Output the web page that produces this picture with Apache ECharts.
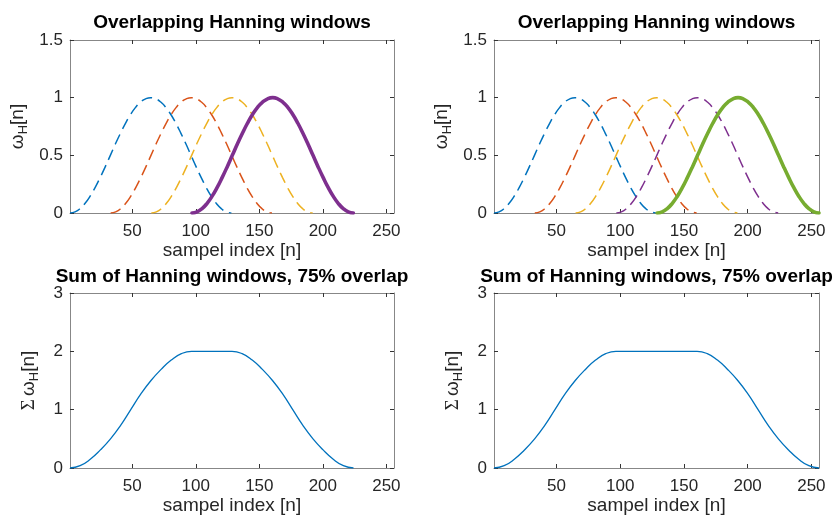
<!DOCTYPE html>
<html>
<head>
<meta charset="utf-8">
<script src="https://cdn.jsdelivr.net/npm/echarts@6/dist/echarts.min.js"></script>
<style>
  html, body { margin: 0; padding: 0; background: #fff; }
  #main { width: 835px; height: 519px; }
</style>
</head>
<body>
<div id="main"></div>
<script>
// one Hanning window (length 128), sampled every ~4 samples
var windowShape = [0, 0.010, 0.038, 0.084, 0.146, 0.222, 0.309, 0.402, 0.5, 0.598, 0.691, 0.778, 0.854, 0.916, 0.962, 0.990, 1,
                   0.990, 0.962, 0.916, 0.854, 0.778, 0.691, 0.598, 0.5, 0.402, 0.309, 0.222, 0.146, 0.084, 0.038, 0.010, 0];
var windowStep = 127 / 32;
var startsLeft = [1, 33, 65, 97];
var startsRight = [1, 33, 65, 97, 129];

// sums of the windows, sampled every ~8 samples
var sumStep = 255 / 32;
var sumLeft = [0, 0.04, 0.15, 0.31, 0.5, 0.73, 1.0, 1.27, 1.5, 1.69, 1.85, 1.96, 2, 2, 2,
               2, 2, 1.96, 1.85, 1.69, 1.5, 1.27, 1.0, 0.73, 0.5, 0.31, 0.15, 0.04, 0];
var sumRight = [0, 0.04, 0.15, 0.31, 0.5, 0.73, 1.0, 1.27, 1.5, 1.69, 1.85, 1.96,
                2, 2, 2, 2, 2, 2, 2, 2, 2,
                1.96, 1.85, 1.69, 1.5, 1.27, 1.0, 0.73, 0.5, 0.31, 0.15, 0.04, 0];

var xTicks = [50, 100, 150, 200, 250];
var colors = ['#0072BD', '#D95319', '#EDB120', '#7E2F8E', '#77AC30'];

var FONT = 'Liberation Sans, Arial, sans-serif';
var AXIS_COLOR = '#878787';
var TEXT_COLOR = '#262626';

var grids = [
  { left: 70, top: 40, width: 324, height: 173 },
  { left: 494, top: 40, width: 325, height: 173 },
  { left: 70, top: 293, width: 324, height: 175 },
  { left: 494, top: 293, width: 325, height: 175 }
];
var yMax = [1.5, 1.5, 3, 3];
var yInterval = [0.5, 0.5, 1, 1];
var yNames = [
  '{n|ω}{s|H}{n|[n]}',
  '{n|ω}{s|H}{n|[n]}',
  '{g|Σ} {n|ω}{s|H}{n|[n]}',
  '{g|Σ} {n|ω}{s|H}{n|[n]}'
];
var yNameGap = [40, 40, 29, 29];
var titles = ['Overlapping Hanning windows', 'Overlapping Hanning windows',
              'Sum of Hanning windows, 75% overlap', 'Sum of Hanning windows, 75% overlap'];

var nameRich = {
  n: { fontSize: 19, fontFamily: FONT, color: TEXT_COLOR, lineHeight: 24 },
  g: { fontSize: 19, fontFamily: 'Liberation Serif, serif', color: TEXT_COLOR, lineHeight: 24 },
  s: { fontSize: 13, fontFamily: FONT, color: TEXT_COLOR, lineHeight: 13, verticalAlign: 'bottom' }
};

var xAxes = [], yAxes = [], titleList = [];
grids.forEach(function (g, i) {
  titleList.push({
    text: titles[i],
    left: g.left + g.width / 2,
    textAlign: 'center',
    top: i < 2 ? 13 : 267,
    padding: 0,
    textStyle: { fontFamily: FONT, fontSize: 19, fontWeight: 'bold', color: '#000' }
  });
  xAxes.push({
    type: 'value', gridIndex: i, min: 1, max: 256, position: 'bottom',
    name: 'sampel index [n]', nameLocation: 'middle', nameGap: 28,
    nameTextStyle: { fontFamily: FONT, fontSize: 19, color: TEXT_COLOR },
    axisLine: { onZero: false, lineStyle: { color: AXIS_COLOR, width: 1 } },
    axisTick: { inside: true, length: 4, customValues: xTicks, lineStyle: { color: '#333' } },
    axisLabel: { customValues: xTicks, margin: 10, fontFamily: FONT, fontSize: 17, color: TEXT_COLOR },
    splitLine: { show: false }
  });
  xAxes.push({
    type: 'value', gridIndex: i, min: 1, max: 256, position: 'top',
    axisLine: { onZero: false, lineStyle: { color: AXIS_COLOR, width: 1 } },
    axisTick: { inside: true, length: 4, customValues: xTicks, lineStyle: { color: '#333' } },
    axisLabel: { show: false },
    splitLine: { show: false }
  });
  yAxes.push({
    type: 'value', gridIndex: i, min: 0, max: yMax[i], interval: yInterval[i], position: 'left',
    name: yNames[i], nameLocation: 'middle', nameRotate: 90, nameGap: yNameGap[i],
    nameTextStyle: { rich: nameRich },
    axisLine: { show: true, onZero: false, lineStyle: { color: AXIS_COLOR, width: 1 } },
    axisTick: { show: true, inside: true, length: 4, lineStyle: { color: '#333' } },
    axisLabel: { margin: 7, fontFamily: FONT, fontSize: 17, color: TEXT_COLOR },
    splitLine: { show: false }
  });
  yAxes.push({
    type: 'value', gridIndex: i, min: 0, max: yMax[i], interval: yInterval[i], position: 'right',
    axisLine: { show: true, onZero: false, lineStyle: { color: AXIS_COLOR, width: 1 } },
    axisTick: { show: true, inside: true, length: 4, lineStyle: { color: '#333' } },
    axisLabel: { show: false },
    splitLine: { show: false }
  });
});

function windowData(start) {
  return windowShape.map(function (v, k) { return [start + k * windowStep, v]; });
}
function sumData(vals) {
  return vals.map(function (v, k) { return [1 + k * sumStep, v]; });
}

var series = [];
function addWindows(starts, gi) {
  starts.forEach(function (s, k) {
    var last = k === starts.length - 1;
    series.push({
      type: 'line', xAxisIndex: gi * 2, yAxisIndex: gi * 2,
      data: windowData(s), smooth: true, showSymbol: false, silent: true,
      lineStyle: last ? { color: colors[k], width: 3.6, type: 'solid', cap: 'round', join: 'round' }
                      : { color: colors[k], width: 1.5, type: [11, 6] }
    });
  });
}
addWindows(startsLeft, 0);
addWindows(startsRight, 1);
[sumLeft, sumRight].forEach(function (vals, k) {
  var gi = 2 + k;
  series.push({
    type: 'line', xAxisIndex: gi * 2, yAxisIndex: gi * 2,
    data: sumData(vals), smooth: true, showSymbol: false, silent: true,
    lineStyle: { color: colors[0], width: 1.3 }
  });
});

var chart = echarts.init(document.getElementById('main'));
chart.setOption({
  animation: false,
  backgroundColor: '#fff',
  title: titleList,
  grid: grids,
  xAxis: xAxes,
  yAxis: yAxes,
  series: series
});
</script>
</body>
</html>
